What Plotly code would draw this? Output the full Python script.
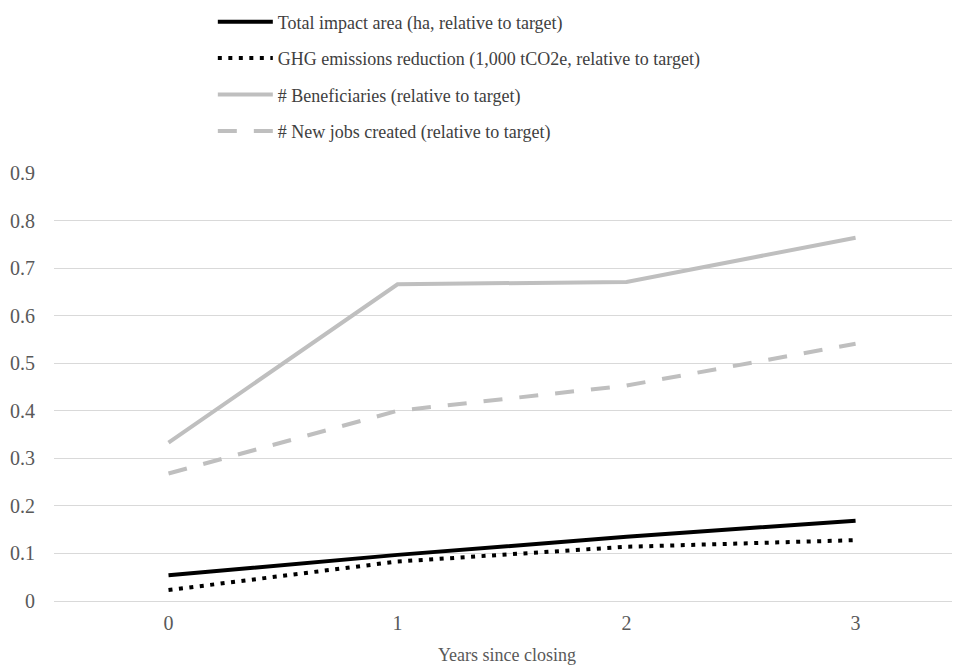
import plotly.graph_objects as go

years = ["0", "1", "2", "3"]
total_area = [0.054, 0.097, 0.135, 0.169]
ghg = [0.023, 0.083, 0.114, 0.128]
beneficiaries = [0.333, 0.666, 0.671, 0.764]
jobs = [0.268, 0.400, 0.453, 0.541]

names = [
    "Total impact area (ha, relative to target)",
    "GHG emissions reduction (1,000 tCO2e, relative to target)",
    "# Beneficiaries (relative to target)",
    "# New jobs created (relative to target)",
]

font_family = "Liberation Serif"
fig = go.Figure()
series = [
    (total_area, "#000000", "solid"),
    (ghg, "#000000", "4px,6.5px"),
    (beneficiaries, "#BFBFBF", "solid"),
    (jobs, "#BFBFBF", "19px,17px"),
]
for i, (vals, col, dash) in enumerate(series):
    fig.add_trace(go.Scatter(
        x=years, y=vals, mode="lines", name=names[i], legendgroup=f"g{i}",
        line=dict(color=col, width=4, dash=dash),
    ))

fig.update_layout(
    width=952, height=657,
    margin=dict(l=46, r=0, t=165, b=64, autoexpand=False),
    paper_bgcolor="white", plot_bgcolor="white",
    font=dict(family=font_family, size=18, color="#595959"),
    showlegend=True,
    legend=dict(
        x=0.1753, y=1.396, xanchor="left", yanchor="top",
        traceorder="grouped", tracegroupgap=10, itemwidth=55,
        font=dict(family=font_family, size=18, color="#404040"),
        bgcolor="rgba(0,0,0,0)",
    ),
    xaxis=dict(
        type="category", range=[-0.5, 3.456], automargin=False,
        showgrid=False, zeroline=False, showline=False,
        ticks="", ticklabelstandoff=8,
        tickfont=dict(family=font_family, size=20, color="#595959"),
        title=dict(text="Years since closing", font=dict(family=font_family, size=18, color="#595959"), standoff=16),
    ),
    yaxis=dict(
        range=[0, 0.9], dtick=0.1, tickformat="~g", automargin=False,
        showgrid=True, gridcolor="#D9D9D9", gridwidth=1.3,
        zeroline=True, zerolinecolor="#D9D9D9", zerolinewidth=1.3,
        showline=False, ticks="", ticklabelstandoff=18,
        tickfont=dict(family=font_family, size=20, color="#595959"),
    ),
)

fig.write_html("out.html")
